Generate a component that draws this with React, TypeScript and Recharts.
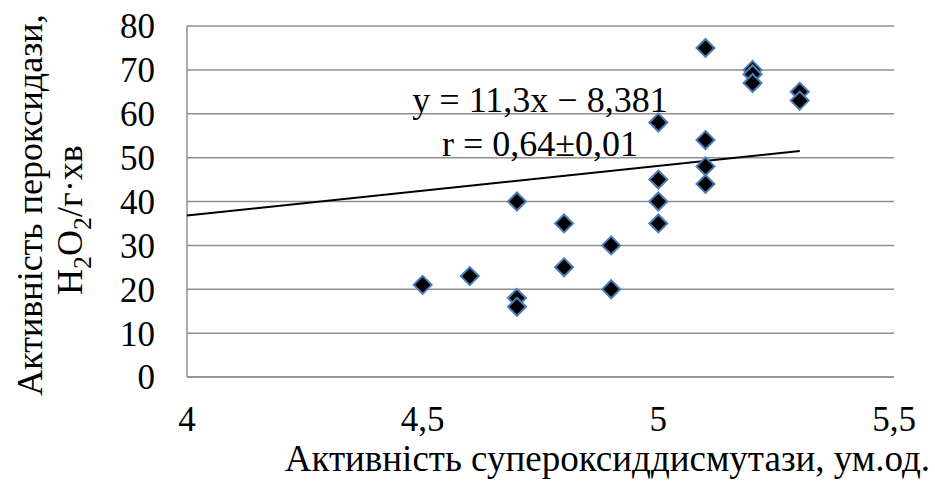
import { ScatterChart, Scatter, XAxis, YAxis, CartesianGrid } from 'recharts';

const sodValues = [4.5, 4.6, 4.7, 4.7, 4.7, 4.8, 4.8, 4.9, 4.9, 5.0, 5.0, 5.0, 5.0, 5.1, 5.1, 5.1, 5.1, 5.2, 5.2, 5.2, 5.3, 5.3];
const peroxidaseValues = [21, 23, 40, 18, 16, 35, 25, 30, 20, 58, 45, 40, 35, 75, 54, 48, 44, 70, 69, 67, 65, 63];

const trendX = [4, 5.3];
const trendY = [36.82, 51.51];

const xTicks = [4, 4.5, 5, 5.5];
const yTicks = [0, 10, 20, 30, 40, 50, 60, 70, 80];

const points = sodValues.map((x, i) => ({ x, y: peroxidaseValues[i] }));
const trend = trendX.map((x, i) => ({ x, y: trendY[i] }));

const FONT = 'Liberation Serif, DejaVu Serif, serif';
const txt = (size: number) => ({ fontFamily: FONT, fontSize: size, fill: '#000' });

const Diamond = (props: any) => {
  const { cx, cy } = props;
  if (cx == null || cy == null) return null;
  const r = 9;
  return (
    <polygon
      points={`${cx},${cy - r} ${cx + r},${cy} ${cx},${cy + r} ${cx - r},${cy}`}
      fill="#000"
      stroke="#4a7ebb"
      strokeWidth={2}
    />
  );
};

// y title (two rotated lines) and the trendline caption
const YTitle = () => (
  <g>
    <text transform="translate(42,205) rotate(-90)" textAnchor="middle" style={txt(36)}>
      Активність пероксидази,
    </text>
    <text transform="translate(82,220) rotate(-90)" textAnchor="middle" style={txt(36)}>
      <tspan>H</tspan>
      <tspan dy={9} style={{ fontSize: 26 }}>2</tspan>
      <tspan dy={-9}>O</tspan>
      <tspan dy={9} style={{ fontSize: 26 }}>2</tspan>
      <tspan dy={-9}>/г·хв</tspan>
    </text>
    <text x={540} y={112} textAnchor="middle" style={txt(36)}>y = 11,3x − 8,381</text>
    <text x={540} y={156} textAnchor="middle" style={txt(36)}>r = 0,64±0,01</text>
  </g>
);

const XTitle = () => (
  <text x={930} y={471} textAnchor="end" style={txt(37)}>
    Активність супероксиддисмутази, ум.од.
  </text>
);

export default function App() {
  return (
    <div style={{ position: 'absolute', left: 0, top: 0, background: '#fff' }}>
      <ScatterChart width={935} height={482} margin={{ top: 26, right: 41, left: 0, bottom: 0 }}>
        <CartesianGrid horizontal vertical={false} stroke="#8f8f8f" strokeWidth={1.5} />
        <XAxis
          type="number"
          dataKey="x"
          domain={[4, 5.5]}
          ticks={xTicks}
          interval={0}
          height={105}
          tickSize={0}
          tickMargin={29}
          tickLine={false}
          stroke="#8f8f8f"
          strokeWidth={1.5}
          tick={txt(35)}
          tickFormatter={(v: number) => String(v).replace('.', ',')}
          label={{ content: () => <XTitle /> }}
        />
        <YAxis
          type="number"
          dataKey="y"
          domain={[0, 80]}
          ticks={yTicks}
          interval={0}
          width={187}
          tickSize={0}
          tickMargin={32}
          tickLine={false}
          stroke="#8f8f8f"
          strokeWidth={1.5}
          tick={txt(35)}
          label={{ content: () => <YTitle /> }}
        />
        <Scatter
          data={trend}
          line={{ stroke: '#000', strokeWidth: 2 }}
          shape={() => <g />}
          isAnimationActive={false}
        />
        <Scatter data={points} shape={<Diamond />} isAnimationActive={false} />
      </ScatterChart>
    </div>
  );
}
